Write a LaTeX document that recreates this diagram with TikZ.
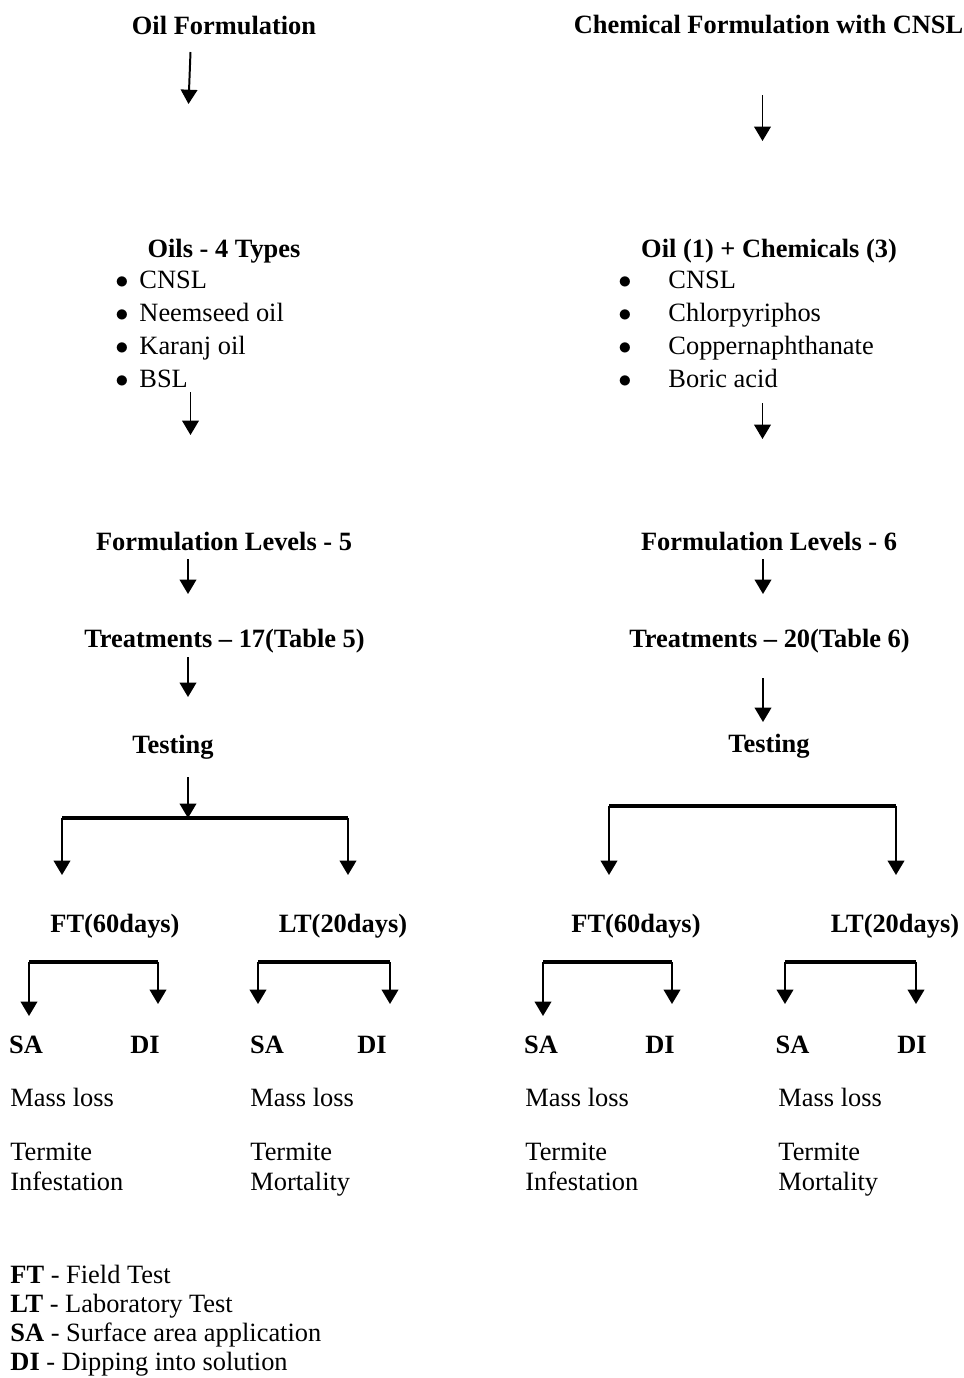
\documentclass[tikz,border=0pt]{standalone}
\usepackage{fontspec}
\setmainfont{Liberation Serif}
\usetikzlibrary{arrows.meta}

\tikzset{
	head/.style={font=\bfseries, anchor=base, inner sep=0pt},
	item/.style={anchor=base west, inner sep=0pt},
	dot/.style={anchor=base, inner sep=0pt},
	arr/.style={line width=0.9pt, -{Triangle[width=7.5pt,length=6.5pt]}},
	bar/.style={line width=2pt},
}

\begin{document}
\fontsize{12}{14}\selectfont
\begin{tikzpicture}[x=0.4545pt, y=-0.4545pt]
\useasboundingbox (0,0) rectangle (963,1378);

\begin{scope}[every node/.style={head}]
	%Oil side
	\node (oilF) at (224,34) {Oil Formulation};
	\node (oils) at (224,257) {Oils - 4 Types};
	\node (levL) at (224,550) {Formulation Levels - 5};
	\node (trtL) at (224.5,647) {Treatments -- 17(Table 5)};
	\node (tstL) at (173,753) {Testing};
	\node (ftL) at (115,932) {FT(60days)};
	\node (ltL) at (343,932) {LT(20days)};
	\node (saL1) at (26,1053) {SA};
	\node (diL1) at (145,1053) {DI};
	\node (saL2) at (267,1053) {SA};
	\node (diL2) at (372,1053) {DI};

	%Chemical side
	\node (chemF) at (768.5,33) {Chemical Formulation with CNSL};
	\node (chems) at (769,257) {Oil (1) + Chemicals (3)};
	\node (levR) at (769,550) {Formulation Levels - 6};
	\node (trtR) at (769.5,647) {Treatments -- 20(Table 6)};
	\node (tstR) at (769,752) {Testing};
	\node (ftR) at (636,932) {FT(60days)};
	\node (ltR) at (895,932) {LT(20days)};
	\node (saR1) at (541,1053) {SA};
	\node (diR1) at (660,1053) {DI};
	\node (saR2) at (792.5,1053) {SA};
	\node (diR2) at (912,1053) {DI};
\end{scope}

%Lists
\foreach \y/\t [count=\i] in {288/CNSL, 321/Neemseed oil, 354/Karanj oil, 387/BSL}{
	\node[dot] (oilDot\i) at (122,\y) {$\bullet$};
	\node[item] (oil\i) at (139,\y) {\t};
}
\foreach \y/\t [count=\i] in {288/CNSL, 321/Chlorpyriphos, 354/Coppernaphthanate, 387/Boric acid}{
	\node[dot] (chemDot\i) at (625,\y) {$\bullet$};
	\node[item] (chem\i) at (668,\y) {\t};
}

%Results
\foreach \x/\s/\w in {10/L1/Infestation, 250/L2/Mortality, 525/R1/Infestation, 778/R2/Mortality}{
	\node[item] (mass\s) at (\x,1106) {Mass loss};
	\node[item] (term\s) at (\x,1160) {Termite};
	\node[item] (eff\s) at (\x,1190) {\w};
}

%Legend
\node[item] (keyFT) at (10,1283) {\textbf{FT} - Field Test};
\node[item] (keyLT) at (10,1312) {\textbf{LT} - Laboratory Test};
\node[item] (keySA) at (10,1341) {\textbf{SA} - Surface area application};
\node[item] (keyDI) at (10,1370) {\textbf{DI} - Dipping into solution};

%Arrow ends
\coordinate (oilF_s) at (190.5,52);   \coordinate (oils_n) at (188.5,104);
\coordinate (oils_s) at (190.5,392);  \coordinate (levL_n) at (190.5,435);
\coordinate (levL_s) at (188,559);    \coordinate (trtL_n) at (188,594);
\coordinate (trtL_s) at (188,657);    \coordinate (tstL_n) at (188,697);
\coordinate (tstL_s) at (188,777);    \coordinate (tstL_b) at (188,818);

\coordinate (chemF_s) at (762.5,95);  \coordinate (chems_n) at (762.5,141);
\coordinate (chems_s) at (762.5,403); \coordinate (levR_n) at (762.5,439);
\coordinate (levR_s) at (763,559);    \coordinate (trtR_n) at (763,594);
\coordinate (trtR_s) at (763,678);    \coordinate (tstR_n) at (763,722);

%Brackets
\coordinate (brL_a) at (62,818);   \coordinate (brL_b) at (348,818);
\coordinate (brR_a) at (609,806);  \coordinate (brR_b) at (896,806);
\coordinate (ftL_a) at (29,962);   \coordinate (ftL_b) at (158,962);
\coordinate (ltL_a) at (258,962);  \coordinate (ltL_b) at (390,962);
\coordinate (ftR_a) at (543,962);  \coordinate (ftR_b) at (672,962);
\coordinate (ltR_a) at (785,962);  \coordinate (ltR_b) at (916,962);

\begin{scope}[style={arr}]
	%Oil side
	\path (oilF_s) edge (oils_n);
	\path (oils_s) edge (levL_n);
	\path (levL_s) edge (trtL_n);
	\path (trtL_s) edge (tstL_n);
	\path (tstL_s) edge (tstL_b);

	%Chemical side
	\path (chemF_s) edge (chems_n);
	\path (chems_s) edge (levR_n);
	\path (levR_s) edge (trtR_n);
	\path (trtR_s) edge (tstR_n);
\end{scope}

\begin{scope}[style={bar}]
	\draw (brL_a) -- (brL_b);
	\draw (brR_a) -- (brR_b);
	\draw (ftL_a) -- (ftL_b);
	\draw (ltL_a) -- (ltL_b);
	\draw (ftR_a) -- (ftR_b);
	\draw (ltR_a) -- (ltR_b);
\end{scope}

\begin{scope}[style={arr}]
	\path (brL_a) edge ++(0,57) (brL_b) edge ++(0,57);
	\path (brR_a) edge ++(0,69) (brR_b) edge ++(0,69);
	\path (ftL_a) edge ++(0,54) (ftL_b) edge ++(0,42);
	\path (ltL_a) edge ++(0,42) (ltL_b) edge ++(0,42);
	\path (ftR_a) edge ++(0,54) (ftR_b) edge ++(0,42);
	\path (ltR_a) edge ++(0,42) (ltR_b) edge ++(0,42);
\end{scope}
\end{tikzpicture}
\end{document}
